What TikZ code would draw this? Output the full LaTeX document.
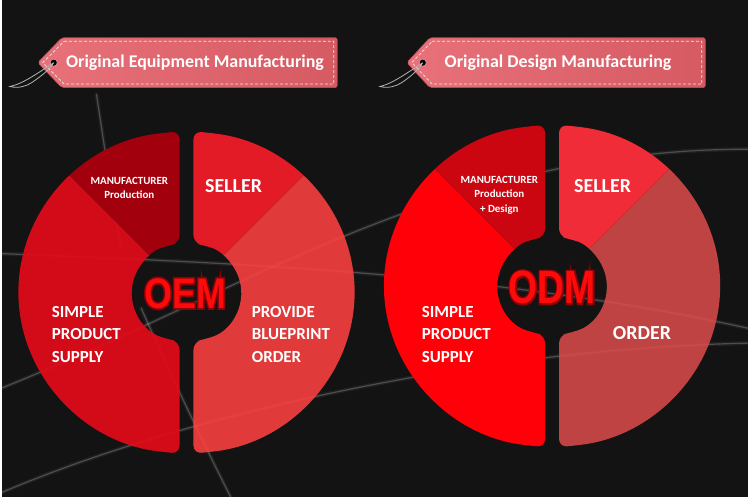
\documentclass[tikz,border=0pt]{standalone}
\usepackage{fontspec}
\setmainfont{Carlito}
\newfontfamily\logofont{Liberation Sans}
\usepackage{graphicx}

\definecolor{bgcol}{HTML}{131313}
\definecolor{tagleft}{HTML}{E8717A}
\definecolor{tagright}{HTML}{D65A62}
\definecolor{tagedge}{HTML}{B84850}
\definecolor{stitchcol}{HTML}{EBEBEB}
\definecolor{twinecol}{HTML}{B4B4B4}
\definecolor{oemsupply}{HTML}{E20B19}
\definecolor{oemmaker}{HTML}{A3000D}
\definecolor{oemseller}{HTML}{E31B27}
\definecolor{oemorder}{HTML}{FF4140}
\definecolor{odmsupply}{HTML}{FF0009}
\definecolor{odmmaker}{HTML}{CB0611}
\definecolor{odmseller}{HTML}{EF2C37}
\definecolor{odmorder}{HTML}{DE4C4C}
\definecolor{logored}{HTML}{FF0A0A}

% left half of a ring, centre at the origin
\newcommand{\halfring}{(98:169 and 162) arc[start angle=98, end angle=262, x radius=169, y radius=162]
  -- (-7,-161.9) -- (-7,-49.6) -- (250:55 and 50) arc[start angle=250, end angle=110, x radius=55, y radius=50]
  -- (-7,49.6) -- (-7,161.9) -- cycle}

% dark red rim drawn round the letters
\newcommand{\rimtext}[1]{\special{pdf:literal direct 1 Tr 3.6 w 0.55 0 0.03 RG}#1\special{pdf:literal direct 0 Tr}}

\begin{document}
\begin{tikzpicture}[x=1pt, y=1pt,
    streak/.style = {white, line width=1.2, opacity=.2, line cap=round,
      postaction={draw, white, line width=4, opacity=.06}},
    tagbox/.style = {rounded corners=2, left color=tagleft, right color=tagright,
      draw=tagedge, line width=.6},
    stitching/.style = {draw=stitchcol, line width=.7, dash pattern=on 3pt off 2pt},
    tagtext/.style = {text=white, font=\bfseries\fontsize{18}{18}\selectfont},
    taghole/.style = {circle, fill=black, draw=tagedge!40!white, inner sep=0, minimum size=7pt},
    twine/.style = {draw=twinecol, line width=.8},
    lbl/.style = {text=white, font=\bfseries\fontsize{17}{22.5}\selectfont,
      align=left, anchor=west, inner sep=0},
    biglbl/.style = {lbl, font=\bfseries\fontsize{20}{20}\selectfont},
    small/.style = {text=white, font=\bfseries\fontsize{11}{14.5}\selectfont,
      align=center, inner sep=0},
    logo/.style = {text=logored, font=\logofont\bfseries\fontsize{43}{43}\selectfont, inner sep=0},
    biglogo/.style = {logo, font=\logofont\bfseries\fontsize{47}{47}\selectfont}]

  \fill[bgcol] (0,0) rectangle (750,500);
  \draw[streak] (0,110) .. controls (250,210) and (450,350) .. (750,350);
  \draw[streak] (0,5) .. controls (200,90) and (500,150) .. (750,155);
  \draw[streak] (0,245) .. controls (250,235) and (500,225) .. (750,170);
  \draw[streak] (140,190) .. controls (180,100) and (210,40) .. (230,0);
  \draw[streak] (95,405) .. controls (105,340) and (112,290) .. (120,250);

  % OEM ring
  \begin{scope}[shift={(185.5,206)}]
    \begin{scope}
      \clip[rounded corners=8] \halfring;
      \fill[oemsupply, fill opacity=.93] (0,0) -- (-200,200) -- (-200,-200) -- (0,-200) -- cycle;
      \fill[oemmaker] (0,0) -- (-200,200) -- (0,200) -- cycle;
    \end{scope}
    \begin{scope}[xscale=-1]
      \clip[rounded corners=8] \halfring;
      \fill[oemorder, fill opacity=.87] (0,0) -- (-200,200) -- (-200,-200) -- (0,-200) -- cycle;
      \fill[oemseller] (0,0) -- (-200,200) -- (0,200) -- cycle;
    \end{scope}
  \end{scope}

  % ODM ring
  \begin{scope}[shift={(553,212.5)}]
    \begin{scope}
      \clip[rounded corners=8] \halfring;
      \fill[odmsupply] (0,0) -- (-200,200) -- (-200,-200) -- (0,-200) -- cycle;
      \fill[odmmaker] (0,0) -- (-200,200) -- (0,200) -- cycle;
    \end{scope}
    \begin{scope}[xscale=-1]
      \clip[rounded corners=8] \halfring;
      \fill[odmorder, fill opacity=.85] (0,0) -- (-200,200) -- (-200,-200) -- (0,-200) -- cycle;
      \fill[odmseller] (0,0) -- (-200,200) -- (0,200) -- cycle;
    \end{scope}
  \end{scope}

  % tags
  \path[tagbox] (60,462) -- (337,462) -- (337,412) -- (60,412) -- (36,437) -- cycle;
  \draw[stitching] (62.5,458.5) -- (333.5,458.5) -- (333.5,415.5) -- (62.5,415.5) -- (41,437) -- cycle;
  \node[taghole] (holeA) at (52,437) {};
  \node[tagtext] (tagA) at (194,437) {Original Equipment Manufacturing};
  \coordinate (twineA) at (8,413);
  \draw[twine] (holeA.center) .. controls (38,428) and (22,416) .. (twineA)
    .. controls (16,411) and (24,413) .. (30,417) .. controls (40,424) and (48,430) .. (holeA.center);

  \path[tagbox] (430,462) -- (707,462) -- (707,412) -- (430,412) -- (407,437) -- cycle;
  \draw[stitching] (432.5,458.5) -- (703.5,458.5) -- (703.5,415.5) -- (432.5,415.5) -- (412,437) -- cycle;
  \node[taghole] (holeB) at (423,437) {};
  \node[tagtext] (tagB) at (559,437) {Original Design Manufacturing};
  \coordinate (twineB) at (380,413);
  \draw[twine] (holeB.center) .. controls (409,428) and (393,416) .. (twineB)
    .. controls (388,411) and (396,413) .. (402,417) .. controls (412,424) and (419,430) .. (holeB.center);

  % OEM labels
  \node[small] (makerA) at (128,311) {MANUFACTURER\\Production};
  \node[biglbl] (sellerA) at (204,313) {SELLER};
  \node[lbl] (supplyA) at (50,164) {SIMPLE\\PRODUCT\\SUPPLY};
  \node[lbl] (orderA) at (251,164) {PROVIDE\\BLUEPRINT\\ORDER};
  \node[logo] (oemrim) at (184,205) {\rimtext{\scalebox{.84}[1]{OEM}}};
  \node[logo] (oem) at (oemrim.center) {\scalebox{.84}[1]{OEM}};

  % ODM labels
  \node[small] (makerB) at (500,304) {MANUFACTURER\\Production\\+ Design};
  \node[biglbl] (sellerB) at (575,313) {SELLER};
  \node[lbl] (supplyB) at (422,164) {SIMPLE\\PRODUCT\\SUPPLY};
  \node[biglbl] (orderB) at (614,165) {ORDER};
  \node[biglogo] (odmrim) at (553,211) {\rimtext{\scalebox{.8}[1]{ODM}}};
  \node[biglogo] (odm) at (odmrim.center) {\scalebox{.8}[1]{ODM}};
\end{tikzpicture}
\end{document}
